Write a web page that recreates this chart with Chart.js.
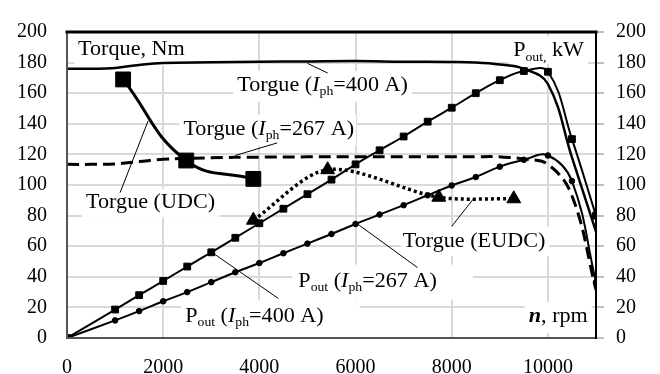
<!DOCTYPE html>
<html><head><meta charset="utf-8">
<script src="https://cdn.jsdelivr.net/npm/chart.js@4.4.0/dist/chart.umd.min.js"></script>
<style>html,body{margin:0;padding:0;background:#fff}#wrap{width:660px;height:374px}</style>
</head><body><div id="wrap"><canvas id="c" width="660" height="374"></canvas></div>
<script>
// ---- data ----
const powerSpeed = [0,1000,1500,2000,2500,3000,3500,4000,4500,5000,5500,6000,6500,7000,7500,8000,8500,9000,9500,10000,10500,11000];
const poutHigh   = [0,18.6,28,37.3,46.7,56,65.5,75,84.5,94,103.5,113.5,122.7,131.7,141.4,150.5,160,168.5,174.5,174,130,80];
const poutLow    = [0,11.5,17.6,24,30,36.5,43,49,55.4,61.7,68,74.5,80.7,86.8,93.3,99.7,105.2,112,116.5,119.3,102.6,36.5];
const torqueSpeed = [0,500,1000,1500,2000,3000,4000,5000,6000,7000,8000,8500,9000,9500,10000,10500,11000];
const torqueHigh  = [176,176,176.5,178.5,179.8,180.2,180.6,180.8,181,180.6,180.4,180.1,178.8,176,166,118,69.5];
const torqueLow   = [113.5,113.5,113.8,115.3,116.8,117.8,118.2,118.4,118.5,118.5,118.5,118.5,118.4,117,113.5,93,31.5];
const udcSpeed  = [1167,2480,3875];
const udcTorque = [169,116,104];
const eudcSpeed  = [3875,5420,7730,9290];
const eudcTorque = [77,110,92,91];
const xTickValues = [0,2000,4000,6000,8000,10000];
const yTickValues = [0,20,40,60,80,100,120,140,160,180,200];

const pts = (xs, ys) => xs.map((x, i) => ({x, y: ys[i]}));
const FONT = '"Liberation Serif", "Times New Roman", serif';

// ---- annotations (labels + leader lines, positioned in data units) ----
const labels = [
  {runs:[{t:'Torque, Nm'}], x:230, y:185, align:'left', pad:[4,4,22,6]},
  {runs:[{t:'Torgue ('},{t:'I',st:'italic'},{t:'ph',sub:true},{t:'=400 A)'}], x:3540, y:161.3, align:'left', pad:[4,4,6,6], lead:[[5000,179.5],[5420,173.2]]},
  {runs:[{t:'Torgue ('},{t:'I',st:'italic'},{t:'ph',sub:true},{t:'=267 A)'}], x:2420, y:132.6, align:'left', pad:[4,2,6,6], lead:[[4370,127.5],[3500,119.3]]},
  {runs:[{t:'Torgue (UDC)'}], x:396, y:84.8, align:'left', pad:[4,4,5,4], lead:[[1104,95],[1688,142]]},
  {runs:[{t:'P'},{t:'out',sub:true},{t:' ('},{t:'I',st:'italic'},{t:'ph',sub:true},{t:'=400 A)'}], x:2458, y:10.3, align:'left', pad:[4,36,8,10], lead:[[3040,55.4],[4396,25.8]]},
  {runs:[{t:'P'},{t:'out',sub:true},{t:' ('},{t:'I',st:'italic'},{t:'ph',sub:true},{t:'=267 A)'}], x:4810, y:33.4, align:'left', pad:[6,36,8,8], lead:[[6020,75],[7290,46]]},
  {runs:[{t:'Torgue (EUDC)'}], x:6980, y:59.6, align:'left', pad:[2,4,6,5], lead:[[8000,73],[8460,91.3]]},
  {runs:[{t:'P'},{t:'out,',sub:true},{t:' kW'}], x:10750, y:184, align:'right', pad:[4,4,6,3]},
  {runs:[{t:'n',st:'bold italic'},{t:', rpm'}], x:10830, y:10.3, align:'right', pad:[4,4,6,6]}
];
const LSIZE = 21, HSTRETCH = 1.055;

function runFont(r){ const fs = r.sub ? LSIZE*0.62 : LSIZE; return `${r.st||''} ${fs}px ${FONT}`; }
function layoutLabel(ctx, lab, xs, ys){
  let w = 0;
  for (const r of lab.runs){ ctx.font = runFont(r); r._w = ctx.measureText(r.t).width * HSTRETCH; w += r._w; }
  const bx = xs.getPixelForValue(lab.x), by = ys.getPixelForValue(lab.y);
  const x0 = lab.align === 'right' ? bx - w : bx;
  return {x0, w, by};
}

const annotPlugin = {
  id: 'annot',
  beforeDatasetsDraw(chart){
    const {ctx, scales:{x:xs, y:ys}} = chart;
    ctx.save();
    ctx.fillStyle = '#fff';
    for (const lab of labels){
      const L = layoutLabel(ctx, lab, xs, ys);
      const p = lab.pad;
      const top = L.by - LSIZE*0.68 - p[2];
      const bot = L.by + LSIZE*0.22 + p[3];
      ctx.fillRect(L.x0 - p[0], top, L.w + p[0] + p[1], bot - top);
    }
    ctx.restore();
  },
  afterDatasetsDraw(chart){
    const {ctx, chartArea:ca, scales:{x:xs, y:ys}} = chart;
    ctx.save();
    ctx.strokeStyle = '#000'; ctx.lineWidth = 1;
    for (const lab of labels){
      if (!lab.lead) continue;
      ctx.beginPath();
      ctx.moveTo(xs.getPixelForValue(lab.lead[0][0]), ys.getPixelForValue(lab.lead[0][1]));
      ctx.lineTo(xs.getPixelForValue(lab.lead[1][0]), ys.getPixelForValue(lab.lead[1][1]));
      ctx.stroke();
    }
    ctx.fillStyle = '#000'; ctx.textBaseline = 'alphabetic'; ctx.textAlign = 'left';
    for (const lab of labels){
      const L = layoutLabel(ctx, lab, xs, ys);
      let cx = L.x0;
      for (const r of lab.runs){
        ctx.font = runFont(r);
        ctx.save();
        ctx.translate(cx, L.by + (r.sub ? LSIZE*0.2 : 0));
        ctx.scale(HSTRETCH, 1);
        ctx.fillText(r.t, 0, 0);
        ctx.restore();
        cx += r._w;
      }
    }
    ctx.lineCap = 'square';
    ctx.strokeStyle = '#555'; ctx.lineWidth = 2;
    ctx.beginPath(); ctx.moveTo(ca.left, ca.top); ctx.lineTo(ca.left, ca.bottom); ctx.lineTo(ca.right, ca.bottom); ctx.stroke();
    ctx.strokeStyle = '#000'; ctx.lineWidth = 2;
    ctx.beginPath(); ctx.moveTo(ca.right, ca.top); ctx.lineTo(ca.right, ca.bottom); ctx.stroke();
    ctx.lineWidth = 3;
    ctx.beginPath(); ctx.moveTo(ca.left, ca.top); ctx.lineTo(ca.right, ca.top); ctx.stroke();
    ctx.restore();
  }
};

const tickFont = {family: FONT, size: 20};
const plain = v => String(v);
new Chart(document.getElementById('c'), {
  type: 'line',
  data: {
    datasets: [
      {label:'Torque 267', data: pts(torqueSpeed, torqueLow), borderColor:'#000', borderWidth:3, borderDash:[12,6], pointRadius:0, tension:0.4},
      {label:'Torque 400', data: pts(torqueSpeed, torqueHigh), borderColor:'#000', borderWidth:2.5, pointRadius:0, tension:0.4},
      {label:'Pout 267', data: pts(powerSpeed, poutLow), borderColor:'#000', borderWidth:2, pointStyle:'circle', pointRadius:2.8, pointBackgroundColor:'#000', pointBorderColor:'#000', pointBorderWidth:1, tension:0.4},
      {label:'Pout 400', data: pts(powerSpeed, poutHigh), borderColor:'#000', borderWidth:2, pointStyle:'rect', pointRadius:4.8, pointBackgroundColor:'#000', pointBorderColor:'#000', pointBorderWidth:1, tension:0.4},
      {label:'Torque UDC', data: pts(udcSpeed, udcTorque), borderColor:'#000', borderWidth:3, pointStyle:'rect', pointRadius:10.5, pointBackgroundColor:'#000', pointBorderColor:'#000', pointBorderWidth:1, tension:0.45},
      {label:'Torque EUDC', data: pts(eudcSpeed, eudcTorque), borderColor:'#000', borderWidth:3.5, borderDash:[3,3], pointStyle:'triangle', pointRadius:8, pointBackgroundColor:'#000', pointBorderColor:'#000', pointBorderWidth:1, tension:0.3}
    ]
  },
  options: {
    responsive:false, animation:false, devicePixelRatio:1,
    layout:{padding:{top:20, left:0, right:0, bottom:0}},
    plugins:{legend:{display:false}, tooltip:{enabled:false}},
    elements:{line:{capBezierPoints:true, borderCapStyle:'butt'}},
    scales:{
      x:{type:'linear', min:0, max:11000,
        afterBuildTicks(s){ s.ticks = xTickValues.map(v=>({value:v})); },
        afterFit(s){ s.height = 36; },
        grid:{color:'#d9d9d9', lineWidth:2, drawTicks:false},
        border:{display:false},
        ticks:{font:tickFont, color:'#000', padding:18, maxRotation:0, callback:plain}
      },
      y:{type:'linear', position:'left', min:0, max:200,
        afterBuildTicks(s){ s.ticks = yTickValues.map(v=>({value:v})); },
        afterFit(s){ s.width = 67; },
        grid:{color:'#d9d9d9', lineWidth:2, drawTicks:false},
        border:{display:false},
        ticks:{font:tickFont, color:'#000', padding:20, callback:plain}
      },
      y1:{type:'linear', position:'right', min:0, max:200,
        afterBuildTicks(s){ s.ticks = yTickValues.map(v=>({value:v})); },
        afterFit(s){ s.width = 64; },
        grid:{color:'#bfbfbf', lineWidth:2, drawOnChartArea:false, drawTicks:true, tickLength:8},
        border:{display:false},
        ticks:{font:tickFont, color:'#000', padding:12, callback:plain}
      }
    }
  },
  plugins:[annotPlugin]
});
</script>
</body></html>
